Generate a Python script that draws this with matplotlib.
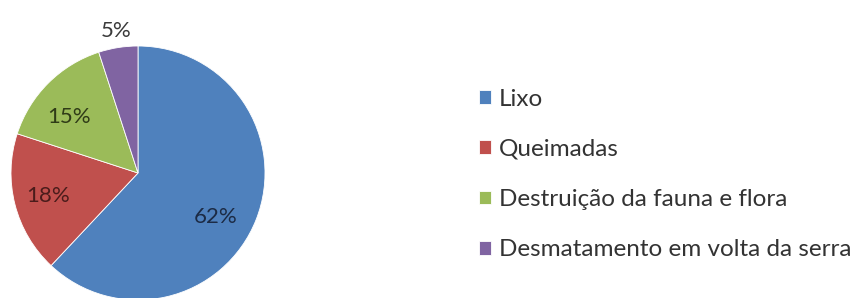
import matplotlib
matplotlib.use("Agg")
import matplotlib.pyplot as plt

categories = ["Lixo", "Queimadas", "Destruição da fauna e flora", "Desmatamento em volta da serra"]
values = [62, 18, 15, 5]
colors = ["#4F81BD", "#C0504D", "#9BBB59", "#8064A2"]
label_colors = ["#1C2B45", "#4A1C1B", "#2F3B17", "#3A3A3A"]
label_pos = [(0.61, -0.35), (-0.71, -0.18), (-0.54, 0.44), (-0.17, 1.12)]

plt.rcParams['font.family'] = ['Lato', 'DejaVu Sans']

W, H = 861, 298
fig = plt.figure(figsize=(W/100, H/100), dpi=100)
cx, cy, R = 138, 298-173, 127
ax = fig.add_axes([(cx-R)/W, (cy-R)/H, 2*R/W, 2*R/H])
wedges, texts, autotexts = ax.pie(values, colors=colors, startangle=90, counterclock=False,
                                  autopct='%1.0f%%', pctdistance=0.70,
                                  wedgeprops=dict(linewidth=0.6, edgecolor='white'),
                                  textprops=dict(fontsize=16))
for t, c, p in zip(autotexts, label_colors, label_pos):
    t.set_color(c)
    t.set_position(p)
ax.set_xlim(-1, 1); ax.set_ylim(-1, 1)
ax.set_aspect('equal')
ax.axis('off')

leg = fig.legend(wedges, categories, loc='upper left', bbox_to_anchor=(469/W, 1-79/H),
                 frameon=False, fontsize=17.5, handlelength=0.5, handleheight=0.5,
                 handletextpad=0.33, labelspacing=1.2, borderaxespad=0)
for t in leg.get_texts():
    t.set_color("#333333")
fig.savefig("out.png", dpi=100)
